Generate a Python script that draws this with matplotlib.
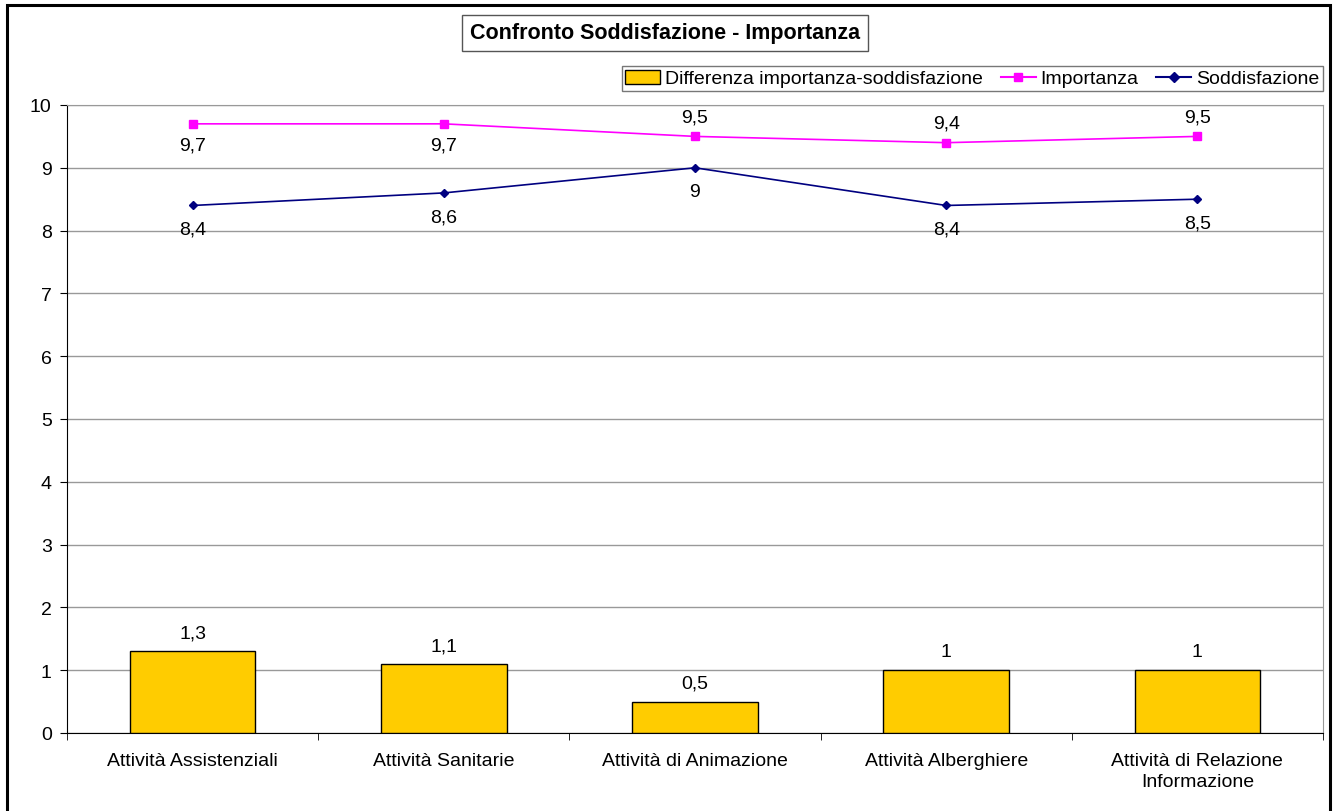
import numpy as np
import matplotlib.pyplot as plt
from matplotlib.lines import Line2D
from matplotlib.patches import Patch, Rectangle

plt.rcParams['font.family'] = ['Liberation Sans', 'DejaVu Sans']

categorie = ['Attività Assistenziali', 'Attività Sanitarie', 'Attività di Animazione',
             'Attività Alberghiere', 'Attività di Relazione\nInformazione']
differenza = [1.3, 1.1, 0.5, 1.0, 1.0]
importanza = [9.7, 9.7, 9.5, 9.4, 9.5]
soddisfazione = [8.4, 8.6, 9.0, 8.4, 8.5]
# label placement for Importanza: below for first two, above otherwise
imp_below = [True, True, False, False, False]

def fmt(v):
    s = ('%.1f' % v).rstrip('0').rstrip('.')
    return s.replace('.', ',')

fig = plt.figure(figsize=(13.35, 8.12), dpi=100)
# outer frame
fig.patches.append(Rectangle((7 / 1335, -0.01), 1323 / 1335, 1 - 6 / 812 + 0.01,
                             transform=fig.transFigure, fill=False,
                             edgecolor='black', linewidth=2.2))

ax = fig.add_axes([67 / 1335, 1 - 734 / 812, (1323 - 67) / 1335, (734 - 106) / 812])
x = np.arange(len(categorie))
fs = 14

ax.bar(x, differenza, width=0.5, color='#FFCC00', edgecolor='black', linewidth=1, zorder=3)
ax.plot(x, importanza, color='#FF00FF', marker='s', markersize=6, linewidth=1.2, zorder=4)
ax.plot(x, soddisfazione, color='#000080', marker='D', markersize=4.5, linewidth=1.2, zorder=4)

for i in range(len(x)):
    ax.annotate(fmt(differenza[i]), (x[i], differenza[i]), xytext=(0, 7),
                textcoords='offset points', ha='center', va='bottom', fontsize=fs)
    off = -9 if imp_below[i] else 8
    ax.annotate(fmt(importanza[i]), (x[i], importanza[i]), xytext=(0, off),
                textcoords='offset points', ha='center',
                va='top' if imp_below[i] else 'bottom', fontsize=fs)
    ax.annotate(fmt(soddisfazione[i]), (x[i], soddisfazione[i]), xytext=(0, -11),
                textcoords='offset points', ha='center', va='top', fontsize=fs)

ax.set_xlim(-0.5, len(x) - 0.5)
ax.set_ylim(0, 10)
ax.set_yticks(range(0, 11))
ax.set_xticks(x)
ax.set_xticklabels(categorie, fontsize=fs, linespacing=1.3)
ax.set_xticks(np.arange(-0.5, len(x)), minor=True)
ax.tick_params(axis='x', which='major', length=0, pad=14)
ax.tick_params(axis='x', which='minor', length=5, direction='out', color='black')
ax.tick_params(axis='y', length=5, direction='out', labelsize=fs, pad=6)
ax.grid(axis='y', color='#999999', linewidth=1, zorder=0)
ax.set_axisbelow(True)
for s in ['top', 'right']:
    ax.spines[s].set_color('#999999')
for s in ['left', 'bottom']:
    ax.spines[s].set_color('black')

# title box
fig.text(665 / 1335, 1 - 34 / 812, 'Confronto Soddisfazione - Importanza',
         ha='center', va='center', fontsize=15.5, fontweight='bold',
         bbox=dict(boxstyle='square,pad=0.35', facecolor='white', edgecolor='#555555', linewidth=1))

handles = [Patch(facecolor='#FFCC00', edgecolor='black', label='Differenza importanza-soddisfazione'),
           Line2D([], [], color='#FF00FF', marker='s', markersize=6, label='Importanza'),
           Line2D([], [], color='#000080', marker='D', markersize=5, label='Soddisfazione')]
leg = fig.legend(handles=handles, loc='upper right', bbox_to_anchor=(1323 / 1335, 1 - 67 / 812),
                 ncol=3, fontsize=fs, frameon=True, fancybox=False, edgecolor='#555555',
                 handlelength=1.8, handletextpad=0.25, columnspacing=0.9, borderpad=0.2,
                 borderaxespad=0)
leg.get_frame().set_linewidth(1)

fig.savefig('out.png', dpi=100)
